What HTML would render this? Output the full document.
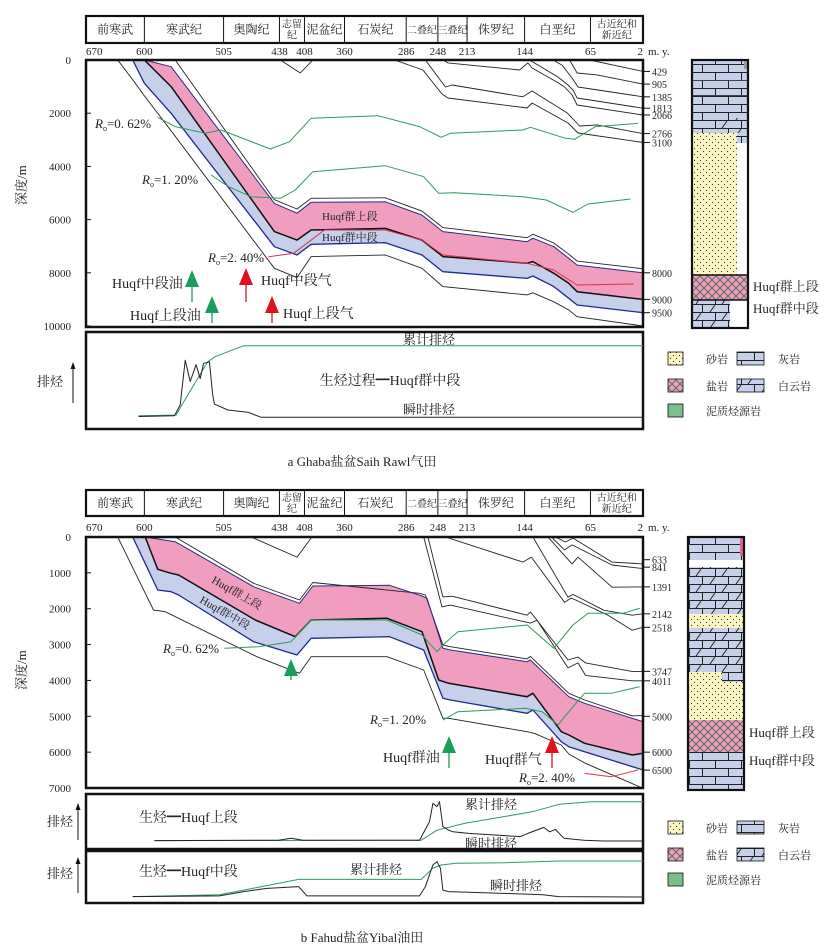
<!DOCTYPE html>
<html><head><meta charset="utf-8"><style>
html,body{margin:0;padding:0;background:#fff;}
svg{display:block;}
text{font-family:"Liberation Serif","Noto Serif CJK SC",serif;fill:#222;}
</style></head><body>
<svg id="fig" width="839" height="952" viewBox="0 0 839 952" xmlns="http://www.w3.org/2000/svg">
<defs>
<pattern id="lime" width="26" height="16" patternUnits="userSpaceOnUse"><rect width="26" height="16" fill="#c6d0ea"/><path d="M0 0.5H26M0 8.5H26M0.5 0V8M13.5 8V16" stroke="#222" stroke-width="1" fill="none"/></pattern>
<pattern id="dolo" width="26" height="16" patternUnits="userSpaceOnUse"><rect width="26" height="16" fill="#c6d0ea"/><path d="M0 0.5H26M0 8.5H26M0.5 0V8M13.5 8V16M8 8L13 1M20 16L25 9" stroke="#222" stroke-width="1" fill="none"/></pattern>
<pattern id="sand" width="6" height="6" patternUnits="userSpaceOnUse"><rect width="6" height="6" fill="#fcf6c2"/><circle cx="1.5" cy="1.5" r="0.6" fill="#333"/><circle cx="4.5" cy="4.5" r="0.6" fill="#333"/></pattern>
<pattern id="salt" width="8" height="8" patternUnits="userSpaceOnUse"><rect width="8" height="8" fill="#e9a3bb"/><path d="M0 0L8 8M8 0L0 8" stroke="#666" stroke-width="1"/></pattern>
<clipPath id="clipA"><rect x="86" y="60" width="557" height="267"/></clipPath>
<clipPath id="clipB"><rect x="86" y="537" width="557" height="251"/></clipPath>
</defs>
<g id="root"></g>
</svg>
<script>
// ---------- shared axis ----------
const periodBounds = [670,600,505,438,408,360,286,248,213,144,65,2];
const periodNames = ["前寒武","寒武纪","奥陶纪","志留|纪","泥盆纪","石炭纪","二叠纪","三叠纪","侏罗纪","白垩纪","古近纪和|新近纪"];
const depthTicksA = [0,2000,4000,6000,8000,10000];
const depthTicksB = [0,1000,2000,3000,4000,5000,6000,7000];
const rightLabelsA = [429,905,1385,1813,2066,2766,3100,8000,9000,9500];
const rightLabelsB = [633,841,1391,2142,2518,3747,4011,5000,6000,6500];

// ---------- panel a data (age Ma, depth m) ----------
const aPinkTopAge = [600,568,444,417,400,311,267,242,141,134,109,91,81,2];
const aPinkTopDep = [0,250,5390,5760,5350,5330,5830,6450,6830,6700,7020,7460,7710,8000];
const aMidAge = [600,568,444,417,400,311,267,242,141,134,109,91,81,2];
const aMidDep = [0,1000,6450,6770,6390,6330,6770,7390,7640,7580,8020,8400,8710,9000];
const aBlueBotAge = [614,600,568,444,417,400,311,267,242,141,134,109,91,81,2];
const aBlueBotDep = [0,877,2005,7020,7330,6930,6870,7330,7960,8210,8120,8520,8960,9210,9500];
const aOuterLowAge = [632,614,600,568,444,417,400,311,267,242,141,134,109,91,81,2];
const aOuterLowDep = [0,740,1350,2660,7830,8180,7390,7330,7830,8520,8830,8750,9090,9400,9650,10000];
const aOuterUpAge = [563,444,417,400,311,267,242,141,134,109,91,81,2];
const aOuterUpDep = [0,5250,5600,5200,5180,5680,6300,6680,6550,6880,7300,7560,7850];
const aH429Age = [66,2], aH429Dep = [0,429];
const aH905Age = [90,81,57,2], aH905Dep = [0,490,560,905];
const aH1385Age = [110,99,87,80,2], aH1385Dep = [0,190,680,1015,1385];
const aH1813Age = [140,134,104,92,86,81,2], aH1813Dep = [0,75,640,940,1130,1430,1813];
const aH2066Age = [242,236,150,140,135,105,96,87,81,2], aH2066Dep = [0,110,375,110,300,830,1015,1315,1690,2066];
const aH2766Age = [263,239,231,146,135,93,87,78,57,2], aH2766Dep = [0,1015,940,1385,1165,1990,2180,2480,2440,2766];
const aH3100Age = [300,266,243,236,141,135,92,87,80,2], aH3100Dep = [0,375,1280,1430,1805,1615,2370,2520,2745,3100];
const aVAge = [437,413,398], aVDep = [0,490,0];
const aRo062Age = [584,563,527,508,449,426,400,320,270,244,233,146,137,95,84,59,8];
const aRo062Dep = [2155,2505,2755,2630,3345,3070,2190,2095,2505,2905,2755,2630,2530,2945,2980,2505,2380];
const aRo120Age = [520,499,472,437,419,398,311,265,247,228,146,118,86,68,17];
const aRo120Dep = [4323,4763,5139,5200,4887,4199,3974,4387,5011,4989,5139,5263,5726,5414,5226];
const aRo240Age = [451,421,384,311,267,242,141,109,81,13];
const aRo240Dep = [7395,7267,6391,6391,6767,7331,7643,7895,8459,8421];

// ---------- panel b data ----------
const bPinkTopAge = [599,563,469,414,398,306,267,261,242,233,141,137,91,72,2];
const bPinkTopDep = [0,130,1385,1850,1366,1348,1645,1710,3105,3151,3477,3430,4453,4638,5150];
const bMidAge = [599,584,568,559,467,419,400,309,267,247,235,141,134,100,91,72,15,2];
const bMidDep = [0,902,1013,1060,2315,2779,2315,2268,2640,3988,4081,4453,4360,5429,5521,5754,6079,6033];
const bBlueBotAge = [614,584,568,559,469,417,400,306,265,242,233,141,134,100,91,72,2];
const bBlueBotDep = [0,1478,1524,1617,2919,3291,2826,2779,3151,4499,4546,4917,4824,5707,5847,5986,6497];
const bOuterLowAge = [632,589,575,465,414,400,309,265,242,235,141,132,100,91,72,2];
const bOuterLowDep = [0,2036,2082,3337,3802,3337,3337,3709,5057,5057,5429,5476,5800,6050,6300,7009];
const bOuterUpAge = [563,469,414,398,270,263,242,233,141,137,91,72,15,2];
const bOuterUpDep = [0,1292,1757,1270,1571,1617,3012,3060,3400,3330,4360,4546,4990,4980];
const bVAge = [472,417,400], bVDep = [0,560,30];
const bH633Age = [107,95,86,39,2], bH633Dep = [0,140,30,700,750];
const bH841Age = [112,96,87,39,2], bH841Dep = [0,360,220,780,880];
const bH1391Age = [116,87,80,39,2], bH1391Dep = [0,750,560,1400,1391];
const bH2142Age = [134,92,86,49,15,2], bH2142Dep = [0,1680,1600,2040,2180,2142];
const bH2518Age = [239,146,136,96,88,44,15,2], bH2518Dep = [0,700,560,1820,1700,2180,2600,2518];
const bH3747Age = [260,242,231,141,137,92,80,71,15,2], bH3747Dep = [0,1670,1650,2180,2090,3430,3350,3510,3747,3747];
const bH4011Age = [265,243,233,137,129,92,80,71,15,2], bH4011Dep = [0,1950,1900,2400,2320,3650,3510,3860,4011,4011];
const bRo062Age = [504,463,424,400,309,267,249,242,224,141,109,86,68,26,6];
const bRo062Dep = [3105,3058,2919,2315,2315,2733,3198,3012,2640,2454,3105,2454,2129,2129,1989];
const bRo120Age = [242,224,143,123,104,86,72,40,6];
const bRo120Dep = [5103,4871,4778,4871,5243,4731,4360,4360,4174];
const bRo240Age = [72,40,8];
const bRo240Dep = [6591,6683,6497];

// ---------- expulsion data (relative amount 0-100) ----------
const eaCumAge = [607,562,555,524,515,481,2];
const eaCumVal = [3,4,18,77,84,99,99];
const eaInstAge = [607,564,557,551,545,538,533,529,522,518,516,500,476,460,2];
const eaInstVal = [2,3,18,79,50,73,54,75,77,32,19,11,8,1,1];
const eb1CumAge = [588,268,249,216,135,102,64,2];
const eb1CumVal = [1,2,27,44,73,92,98,98];
const eb1InstAge = [588,439,424,410,270,258,254,249,246,242,235,230,211,149,140,121,114,107,97,73,50,2];
const eb1InstVal = [1,2,7,2,2,48,94,86,98,36,27,23,19,11,19,34,23,29,7,2,0,0];
const eb2CumAge = [614,510,415,268,254,244,226,169,103,2];
const eb2CumVal = [1,6,49,49,80,89,94,95,100,100];
const eb2InstAge = [614,510,481,453,415,405,270,263,254,249,245,242,235,169,122,103,2];
const eb2InstVal = [1,3,15,24,29,3,3,29,89,98,80,19,15,10,6,1,0];

// ---------- scales ----------
const ax = a => 86 + (670 - a) * 557 / 668;
const yA = d => 60 + d * 0.0266;
const yB = d => 537 + d * 0.03586;
const yEa = v => 418 - v * 0.73;
const yEb1 = v => 841 - v * 0.4;
const yEb2 = v => 897 - v * 0.36;

const NS = "http://www.w3.org/2000/svg";
const root = document.getElementById('root');
function mk(tag, attrs, parent){
  const el = document.createElementNS(NS, tag);
  for (const k in attrs) el.setAttribute(k, attrs[k]);
  (parent || root).appendChild(el);
  return el;
}
function pts(ages, vals, fy){ return ages.map((a,i)=>ax(a).toFixed(1)+','+fy(vals[i]).toFixed(1)); }
function line(parent, name, ages, vals, fy, stroke, w){
  const el = mk('polyline', {points: pts(ages, vals, fy).join(' '), fill:'none', stroke:stroke, 'stroke-width':w, 'stroke-linejoin':'round'}, parent);
  
  
  return el;
}
function band(parent, name, a1, v1, a2, v2, fy, fill){
  const p = pts(a1, v1, fy).concat(pts(a2, v2, fy).reverse());
  const el = mk('polygon', {points: p.join(' '), fill: fill, stroke:'none'}, parent);
  
  
  return el;
}
function txt(parent, name, x, y, s, opts){
  const el = mk('text', Object.assign({x:x, y:y, 'font-size':12}, opts||{}), parent);
  el.textContent = s;
  
  
  return el;
}
function roLabel(parent, name, x, y, val, color){
  const el = mk('text', {x:x, y:y, 'font-size':13}, parent);
  
  
  const r = mk('tspan', {'font-style':'italic'}, el); r.textContent = 'R';
  const o = mk('tspan', {'font-size':8, dy:3}, el); o.textContent = 'o';
  const v = mk('tspan', {dy:-3}, el); v.textContent = '=' + val;
}
function arrow(parent, name, x, y1, y2, color){
  const g = mk('g', {}, parent);
  
  
  mk('line', {x1:x, y1:y1+10, x2:x, y2:y2, stroke:color, 'stroke-width':1.3}, g);
  mk('polygon', {points:`${x-7},${y1+17} ${x+7},${y1+17} ${x},${y1}`, fill:color}, g);
}

function header(y, h, labY, nm){
  const g = mk('g', {});  
  mk('rect', {x:86, y:y, width:557, height:h, fill:'none', stroke:'#111', 'stroke-width':2.2}, g);
  periodBounds.forEach((b,i)=>{
    if (i>0 && i<periodBounds.length-1) mk('line', {x1:ax(b), y1:y, x2:ax(b), y2:y+h, stroke:'#111', 'stroke-width':1}, g);
    const t = txt(g, 'age-tick-label', ax(b), labY, String(b), {'font-size':11, 'text-anchor': i===0?'start':(i===periodBounds.length-1?'end':'middle')});
  });
  txt(g, 'age-unit', 648, labY, 'm. y.', {'font-size':11});
  periodNames.forEach((n,i)=>{
    const cx = (ax(periodBounds[i]) + ax(periodBounds[i+1]))/2;
    const w = ax(periodBounds[i+1]) - ax(periodBounds[i]);
    const fs = w < 36 ? 10 : 12;
    const parts = n.split('|');
    if (parts.length === 1) txt(g, 'period-label', cx, y+h/2+4, n, {'font-size':fs, 'text-anchor':'middle', fill:'#333'});
    else { txt(g, 'period-label', cx, y+h/2-2, parts[0], {'font-size':10, 'text-anchor':'middle', fill:'#333'});
           txt(g, 'period-label', cx, y+h/2+9, parts[1], {'font-size':10, 'text-anchor':'middle', fill:'#333'}); }
  });
}
header(16, 27, 55, 'period-header-a');
header(490, 26, 531, 'period-header-b');

// ---------- panel a ----------
const gA = mk('g', {'clip-path':'url(#clipA)'});  
band(gA, 'huqf-upper-band-a', aPinkTopAge, aPinkTopDep, aMidAge, aMidDep, yA, '#f09dbf');
band(gA, 'huqf-middle-band-a', aMidAge, aMidDep, aBlueBotAge, aBlueBotDep, yA, '#c6d0ea');
line(gA, 'outer-lower-horizon-a', aOuterLowAge, aOuterLowDep, yA, '#222', 0.9);
line(gA, 'outer-upper-horizon-a', aOuterUpAge, aOuterUpDep, yA, '#222', 0.9);
line(gA, 'huqf-upper-top-a', aPinkTopAge, aPinkTopDep, yA, '#2a2a80', 1);
line(gA, 'huqf-mid-top-a', aMidAge, aMidDep, yA, '#111', 1.5);
line(gA, 'huqf-mid-base-a', aBlueBotAge, aBlueBotDep, yA, '#1e2a90', 1.3);
[[aH429Age,aH429Dep],[aH905Age,aH905Dep],[aH1385Age,aH1385Dep],[aH1813Age,aH1813Dep],[aH2066Age,aH2066Dep],[aH2766Age,aH2766Dep],[aH3100Age,aH3100Dep],[aVAge,aVDep]].forEach(h=>line(gA,'horizon-line-a',h[0],h[1],yA,'#222',0.9));
line(gA, 'ro-062-line-a', aRo062Age, aRo062Dep, yA, '#2e9a5a', 1);
line(gA, 'ro-120-line-a', aRo120Age, aRo120Dep, yA, '#2e9a5a', 1);
line(gA, 'ro-240-line-a', aRo240Age, aRo240Dep, yA, '#e0304a', 1);
const boxA = mk('rect', {x:86, y:60, width:557, height:267, fill:'none', stroke:'#111', 'stroke-width':2.5});
 
depthTicksA.forEach(d=>{ mk('line',{x1:86,y1:yA(d),x2:91,y2:yA(d),stroke:'#111'}); txt(root,'depth-tick-label',71,yA(d)+4,String(d),{'font-size':11,'text-anchor':'end'}); });
rightLabelsA.forEach(d=>{ mk('line',{x1:643,y1:yA(d),x2:650,y2:yA(d),stroke:'#111'}); txt(root,'horizon-depth-label',652,yA(d)+4,String(d),{'font-size':10}); });
txt(root,'y-axis-title-a',0,0,'深度/m',{'font-size':13,transform:'translate(26,205) rotate(-90)'});
txt(root,'huqf-upper-label-a',322,220,'Huqf群上段',{'font-size':11});
txt(root,'huqf-middle-label-a',322,241,'Huqf群中段',{'font-size':11});
roLabel(root,'ro-062-label-a',95,128,'0. 62%');
roLabel(root,'ro-120-label-a',142,184,'1. 20%');
roLabel(root,'ro-240-label-a',208,262,'2. 40%');
arrow(root,'oil-arrow-mid-a',192,270,302,'#1a9e5c');
arrow(root,'oil-arrow-up-a',212,296,323,'#1a9e5c');
arrow(root,'gas-arrow-mid-a',246,268,302,'#e0101e');
arrow(root,'gas-arrow-up-a',272,296,323,'#e0101e');
txt(root,'oil-mid-label-a',112,288,'Huqf中段油',{'font-size':14});
txt(root,'oil-up-label-a',130,320,'Huqf上段油',{'font-size':14});
txt(root,'gas-mid-label-a',261,285,'Huqf中段气',{'font-size':14});
txt(root,'gas-up-label-a',283,318,'Huqf上段气',{'font-size':14});

// ---------- panel a expulsion ----------
const exA = mk('rect',{x:86,y:332,width:557,height:97,fill:'none',stroke:'#111','stroke-width':2.5});
 
line(root,'cumulative-expulsion-a',eaCumAge,eaCumVal,yEa,'#2e9a5a',1);
line(root,'instant-expulsion-a',eaInstAge,eaInstVal,yEa,'#222',1);
txt(root,'cumulative-label-a',429,344,'累计排烃',{'font-size':13,'text-anchor':'middle',fill:'#2e9a5a'});
txt(root,'process-label-a',390,385,'生烃过程━Huqf群中段',{'font-size':14,'text-anchor':'middle'});
txt(root,'instant-label-a',429,414,'瞬时排烃',{'font-size':13,'text-anchor':'middle'});
txt(root,'expulsion-axis-a',37,386,'排烃',{'font-size':13});
mk('line',{x1:73,y1:403,x2:73,y2:366,stroke:'#111'}); mk('polygon',{points:'70.5,369 75.5,369 73,362',fill:'#111'});
txt(root,'caption-a',362,466,'a  Ghaba盐盆Saih Rawl气田',{'font-size':13,'text-anchor':'middle'});

// ---------- panel b ----------
const gB = mk('g', {'clip-path':'url(#clipB)'});  
band(gB, 'huqf-upper-band-b', bPinkTopAge, bPinkTopDep, bMidAge, bMidDep, yB, '#f09dbf');
band(gB, 'huqf-middle-band-b', bMidAge, bMidDep, bBlueBotAge, bBlueBotDep, yB, '#c6d0ea');
line(gB, 'outer-lower-horizon-b', bOuterLowAge, bOuterLowDep, yB, '#222', 0.9);
line(gB, 'outer-upper-horizon-b', bOuterUpAge, bOuterUpDep, yB, '#222', 0.9);
line(gB, 'huqf-upper-top-b', bPinkTopAge, bPinkTopDep, yB, '#2a2a80', 1);
line(gB, 'huqf-mid-top-b', bMidAge, bMidDep, yB, '#111', 1.5);
line(gB, 'huqf-mid-base-b', bBlueBotAge, bBlueBotDep, yB, '#1e2a90', 1.3);
[[bH633Age,bH633Dep],[bH841Age,bH841Dep],[bH1391Age,bH1391Dep],[bH2142Age,bH2142Dep],[bH2518Age,bH2518Dep],[bH3747Age,bH3747Dep],[bH4011Age,bH4011Dep],[bVAge,bVDep]].forEach(h=>line(gB,'horizon-line-b',h[0],h[1],yB,'#222',0.9));
line(gB, 'ro-062-line-b', bRo062Age, bRo062Dep, yB, '#2e9a5a', 1);
line(gB, 'ro-120-line-b', bRo120Age, bRo120Dep, yB, '#2e9a5a', 1);
line(gB, 'ro-240-line-b', bRo240Age, bRo240Dep, yB, '#e0304a', 1);
const boxB = mk('rect', {x:86, y:537, width:557, height:251, fill:'none', stroke:'#111', 'stroke-width':2.5});
 
depthTicksB.forEach(d=>{ mk('line',{x1:86,y1:yB(d),x2:91,y2:yB(d),stroke:'#111'}); txt(root,'depth-tick-label',71,yB(d)+4,String(d),{'font-size':11,'text-anchor':'end'}); });
rightLabelsB.forEach(d=>{ mk('line',{x1:643,y1:yB(d),x2:650,y2:yB(d),stroke:'#111'}); txt(root,'horizon-depth-label',652,yB(d)+4,String(d),{'font-size':10}); });
txt(root,'y-axis-title-b',0,0,'深度/m',{'font-size':13,transform:'translate(26,690) rotate(-90)'});
txt(root,'huqf-upper-label-b',0,0,'Huqf群上段',{'font-size':11,transform:'translate(211,582) rotate(30)'});
txt(root,'huqf-middle-label-b',0,0,'Huqf群中段',{'font-size':11,transform:'translate(199,602) rotate(30)'});
roLabel(root,'ro-062-label-b',163,653,'0. 62%');
roLabel(root,'ro-120-label-b',370,724,'1. 20%');
roLabel(root,'ro-240-label-b',519,782,'2. 40%');
arrow(root,'oil-arrow-small-b',291,659,680,'#1a9e5c');
arrow(root,'oil-arrow-b',449,736,768,'#1a9e5c');
arrow(root,'gas-arrow-b',552,736,768,'#e0101e');
txt(root,'oil-label-b',383,762,'Huqf群油',{'font-size':14});
txt(root,'gas-label-b',485,764,'Huqf群气',{'font-size':14});

// ---------- panel b expulsion ----------
const exB1 = mk('rect',{x:86,y:794,width:557,height:55,fill:'none',stroke:'#111','stroke-width':2.5});
 
line(root,'cumulative-expulsion-b-upper',eb1CumAge,eb1CumVal,yEb1,'#2e9a5a',1);
line(root,'instant-expulsion-b-upper',eb1InstAge,eb1InstVal,yEb1,'#222',1);
txt(root,'process-label-b-upper',139,822,'生烃━Huqf上段',{'font-size':14});
txt(root,'cumulative-label-b-upper',465,809,'累计排烃',{'font-size':13,fill:'#2e9a5a'});
txt(root,'instant-label-b-upper',465,848,'瞬时排烃',{'font-size':13});
txt(root,'expulsion-axis-b-upper',47,826,'排烃',{'font-size':13});
mk('line',{x1:78,y1:840,x2:78,y2:808,stroke:'#111'}); mk('polygon',{points:'75.5,810 80.5,810 78,803',fill:'#111'});
const exB2 = mk('rect',{x:86,y:851,width:557,height:52,fill:'none',stroke:'#111','stroke-width':2.5});
 
line(root,'cumulative-expulsion-b-middle',eb2CumAge,eb2CumVal,yEb2,'#2e9a5a',1);
line(root,'instant-expulsion-b-middle',eb2InstAge,eb2InstVal,yEb2,'#222',1);
txt(root,'process-label-b-middle',139,876,'生烃━Huqf中段',{'font-size':14});
txt(root,'cumulative-label-b-middle',350,874,'累计排烃',{'font-size':13,fill:'#2e9a5a'});
txt(root,'instant-label-b-middle',490,890,'瞬时排烃',{'font-size':13});
txt(root,'expulsion-axis-b-middle',47,878,'排烃',{'font-size':13});
mk('line',{x1:78,y1:893,x2:78,y2:862,stroke:'#111'}); mk('polygon',{points:'75.5,864 80.5,864 78,857',fill:'#111'});
txt(root,'caption-b',362,942,'b  Fahud盐盆Yibal油田',{'font-size':13,'text-anchor':'middle'});

// ---------- lithology columns ----------
function rect(name,x,y,w,h,fill,sw){
  const r = mk('rect',{x:x,y:y,width:w,height:h,fill:fill,stroke:sw?'#111':'none','stroke-width':sw||0});
    return r;
}
// column a
rect('limestone-layer-a',692,60,56,73,'url(#lime)');
rect('dolomite-layer-a',720,118,28,15,'url(#dolo)');
rect('wavy-contact-a',692,80,56,1,'#444'); rect('wavy-contact-a',692,95,56,1,'#444');
rect('sandstone-layer-a',692,133,45,142,'url(#sand)');
rect('limestone-layer-a',737,133,11,10,'url(#lime)');
rect('blank-layer-a',737,143,11,132,'#fff');
rect('salt-layer-a',692,275,56,25,'url(#salt)');
rect('dolomite-layer-a',692,300,38,28,'url(#dolo)');
rect('blank-layer-a',730,300,18,28,'#fff');
rect('pink-strip-a',744,60,4,9,'#999');
rect('column-frame-a',692,60,56,268,'none',2.2);
mk('line',{x1:692,y1:275,x2:748,y2:275,stroke:'#111','stroke-width':1.5});
mk('line',{x1:692,y1:300,x2:748,y2:300,stroke:'#111','stroke-width':1.5});
txt(root,'column-huqf-upper-a',753,291,'Huqf群上段',{'font-size':13});
txt(root,'column-huqf-middle-a',753,313,'Huqf群中段',{'font-size':13});
// column b
rect('limestone-layer-b',688,537,56,23,'url(#lime)');
rect('pink-strip-b',740,537,4,19,'#e65f95');
rect('blank-layer-b',688,560,56,7,'#fff');
rect('dolomite-layer-b',688,567,56,47,'url(#dolo)');
rect('sandstone-layer-b',688,614,56,14,'url(#sand)');
rect('dolomite-layer-b',688,628,56,44,'url(#dolo)');
rect('sandstone-layer-b',688,672,56,48,'url(#sand)');
rect('limestone-layer-b',722,672,22,10,'url(#lime)');
rect('salt-layer-b',688,720,56,32,'url(#salt)');
rect('limestone-layer-b',688,752,56,38,'url(#lime)');
rect('column-frame-b',688,537,56,253,'none',2.2);
txt(root,'column-huqf-upper-b',749,737,'Huqf群上段',{'font-size':13});
txt(root,'column-huqf-middle-b',749,765,'Huqf群中段',{'font-size':13});
// legends
function legend(y0, tag){
  rect('legend-sandstone-'+tag,668,y0,15,13,'url(#sand)',0.8);
  txt(root,'legend-sandstone-label',706,y0+11,'砂岩',{'font-size':11});
  rect('legend-limestone-'+tag,737,y0,27,13,'url(#lime)',0.8);
  txt(root,'legend-limestone-label',778,y0+11,'灰岩',{'font-size':11});
  rect('legend-salt-'+tag,668,y0+27,15,13,'url(#salt)',0.8);
  txt(root,'legend-salt-label',706,y0+38,'盐岩',{'font-size':11});
  rect('legend-dolomite-'+tag,737,y0+27,27,13,'url(#dolo)',0.8);
  txt(root,'legend-dolomite-label',778,y0+38,'白云岩',{'font-size':11});
  rect('legend-source-rock-'+tag,668,y0+52,15,13,'#79c08c',0.8);
  txt(root,'legend-source-rock-label',706,y0+63,'泥质烃源岩',{'font-size':11});
}
legend(352,'a');
legend(821,'b');
</script>
</body></html>
